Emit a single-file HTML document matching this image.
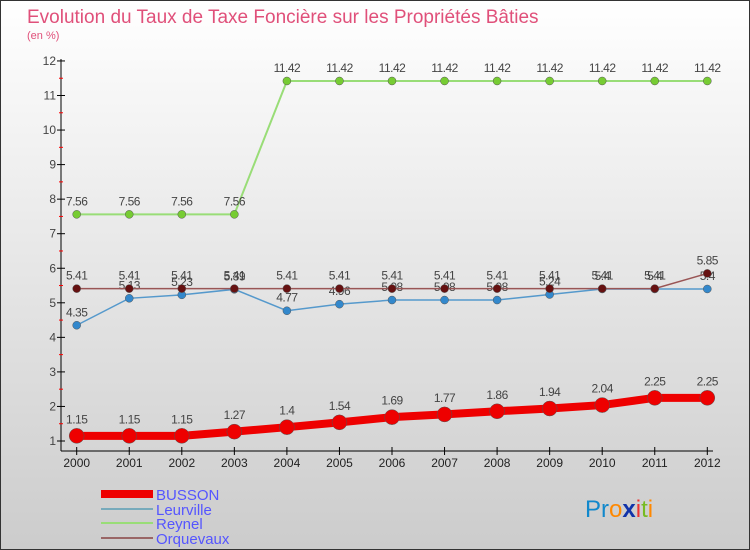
<!DOCTYPE html>
<html><head><meta charset="utf-8"><style>
body{margin:0}
#c{width:750px;height:550px;position:relative;box-sizing:border-box;border:1px solid #333;background:linear-gradient(#fff,#ccc);font-family:"Liberation Sans",sans-serif;overflow:hidden}
</style></head><body>
<div id="c">
<svg id="s" width="750" height="550" style="position:absolute;left:0;top:0">
<text x="26" y="22" font-size="19" fill="#e0507a">Evolution du Taux de Taxe Foncière sur les Propriétés Bâties</text>
<text x="26" y="38" font-size="11" fill="#e0507a">(en %)</text>
<line x1="60" y1="58" x2="60" y2="450" stroke="#000"/>
<line x1="60" y1="450" x2="712" y2="450" stroke="#000"/>
<g id="g"></g>
<g>
<rect x="100" y="489" width="52" height="8" fill="#e00"/>
<text x="155" y="499" font-size="15" fill="#55f">BUSSON</text>
<line x1="100" y1="508" x2="152" y2="508" stroke="#7ab" stroke-width="2"/>
<text x="155" y="514" font-size="15" fill="#55f">Leurville</text>
<line x1="100" y1="522" x2="152" y2="522" stroke="#9d7" stroke-width="2"/>
<text x="155" y="528" font-size="15" fill="#55f">Reynel</text>
<line x1="100" y1="537" x2="152" y2="537" stroke="#966" stroke-width="2"/>
<text x="155" y="543" font-size="15" fill="#55f">Orquevaux</text>
</g>
<text x="584" y="516" font-size="24"><tspan fill="#18c">Pr</tspan><tspan fill="#f80">o</tspan><tspan fill="#13a" font-weight="bold">x</tspan><tspan fill="#e33">i</tspan><tspan fill="#7b2">t</tspan><tspan fill="#f80">i</tspan></text>
</svg>
</div>
<script>
const years=[2000,2001,2002,2003,2004,2005,2006,2007,2008,2009,2010,2011,2012];
const busson=[1.15,1.15,1.15,1.27,1.4,1.54,1.69,1.77,1.86,1.94,2.04,2.25,2.25];
const leurville=[4.35,5.13,5.23,5.39,4.77,4.96,5.08,5.08,5.08,5.24,5.4,5.4,5.4];
const reynel=[7.56,7.56,7.56,7.56,11.42,11.42,11.42,11.42,11.42,11.42,11.42,11.42,11.42];
const orquevaux=[5.41,5.41,5.41,5.41,5.41,5.41,5.41,5.41,5.41,5.41,5.41,5.41,5.85];
const yTicks=[1,2,3,4,5,6,7,8,9,10,11,12];
const NS="http://www.w3.org/2000/svg",g=document.getElementById('g');
const X=i=>75.7+i*52.55, Y=v=>440-(v-1)*34.55;
function el(t,a){const e=document.createElementNS(NS,t);for(const k in a)e.setAttribute(k,a[k]);g.appendChild(e);return e;}
yTicks.forEach((v,k)=>{
 const t=el('line',{x1:56,x2:64,y1:Y(v),y2:Y(v),stroke:'#000'});
 
 
 if(k<yTicks.length-1){
 const m=el('line',{x1:58,x2:62,y1:Y(v+0.5),y2:Y(v+0.5),stroke:'#f00'});
 
 
 }
 const l=el('text',{x:55,y:Y(v)+4,'font-size':12,'text-anchor':'end',fill:'#444'});
 
 
 l.textContent=v;
});
years.forEach((y,i)=>{
 const t=el('line',{x1:X(i),x2:X(i),y1:446,y2:454,stroke:'#000'});
 
 
 const l=el('text',{x:X(i),y:466,'font-size':12,'text-anchor':'middle',fill:'#222'});
 
 
 l.textContent=y;
});
function series(d,name,col,dot,w,r){
 const p=el('polyline',{points:d.map((v,i)=>X(i)+','+Y(v)).join(' '),fill:'none',stroke:col,'stroke-width':w});
 
 
 d.forEach((v,i)=>{
  const c=el('circle',{cx:X(i),cy:Y(v),r:r,fill:dot,stroke:'#555','stroke-width':0.5});
  
  
  const t=el('text',{x:X(i),y:Y(v)-(r+5),'font-size':12,'text-anchor':'middle',fill:'#444','letter-spacing':'-0.5'});
  
  
  t.textContent=v;
 });
}
series(reynel,'reynel','#9d7','#7c3',2,4);
series(leurville,'leurville','#59c','#38c',1.5,4);
series(orquevaux,'orquevaux','#955','#611',1.5,4);
series(busson,'busson','#e00','#e00',8,7.5);
</script>
</body></html>
